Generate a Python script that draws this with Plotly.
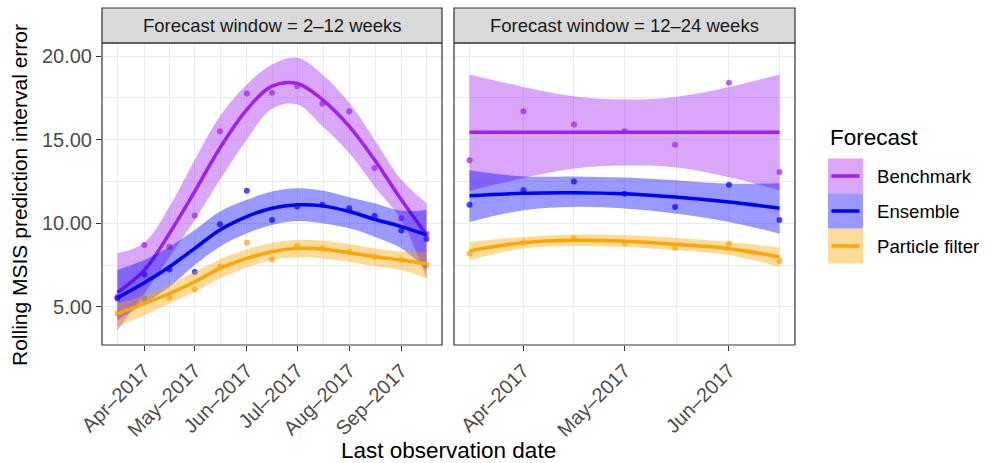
import plotly.graph_objects as go
import pandas as pd

W, H = 987, 463
FONT = "Liberation Sans, Arial, Helvetica, sans-serif"

series = ["Benchmark", "Ensemble", "Particle filter"]
line_colors = ["#A020F0", "#0000FF", "#FFA500"]
band_colors = ["rgba(160,32,240,0.4)", "rgba(0,0,255,0.4)", "rgba(255,165,0,0.4)"]
point_colors = ["rgba(160,32,240,0.7)", "rgba(0,0,255,0.7)", "rgba(255,165,0,0.7)"]

panel_titles = ["Forecast window = 2\u201312 weeks", "Forecast window = 12\u201324 weeks"]

# ---------------- Left panel (2-12 weeks) ----------------
left_dates = ["2017-03-16", "2017-04-01", "2017-04-16", "2017-05-01", "2017-05-16",
              "2017-06-01", "2017-06-16", "2017-07-01", "2017-07-16", "2017-08-01",
              "2017-08-16", "2017-09-01", "2017-09-16"]
left_bench = [5.6, 8.7, 8.6, 10.46, 15.5, 17.76, 17.8, 18.2, 17.14, 16.7, 13.3, 10.3, 9.36]
left_ens = [5.5, 6.94, 7.24, 7.08, 9.94, 11.94, 10.2, 11.0, 11.1, 10.9, 10.44, 9.56, 9.06]
left_pf = [4.6, 5.5, 5.56, 6.04, 7.4, 8.84, 7.84, 8.64, 8.5, 8.3, 8.0, 7.84, 7.5]

left_bench_fit = [5.86, 7.2, 9.4, 11.9, 14.5, 16.8, 18.2, 18.36, 17.4, 15.8, 13.8, 11.4, 9.3]
left_bench_lo = [3.6, 5.8, 8.0, 10.2, 12.6, 15.0, 16.85, 17.1, 15.8, 14.2, 12.2, 10.2, 6.7]
left_bench_hi = [8.2, 8.84, 11.0, 13.8, 16.4, 18.3, 19.5, 19.9, 18.9, 17.2, 15.0, 12.6, 11.2]

left_ens_fit = [5.54, 6.44, 7.4, 8.5, 9.6, 10.4, 10.9, 11.1, 11.04, 10.7, 10.24, 9.8, 9.3]
left_ens_lo = [4.2, 5.2, 6.2, 7.5, 8.6, 9.4, 9.9, 10.14, 10.0, 9.7, 9.2, 8.5, 7.2]
left_ens_hi = [7.2, 7.8, 8.6, 9.6, 10.7, 11.4, 11.9, 12.1, 11.96, 11.56, 11.2, 10.75, 10.8]

left_pf_fit = [4.6, 5.2, 5.8, 6.5, 7.3, 7.9, 8.3, 8.5, 8.46, 8.24, 8.0, 7.8, 7.56]
left_pf_lo = [3.8, 4.5, 5.2, 5.9, 6.7, 7.36, 7.8, 7.96, 7.9, 7.7, 7.44, 7.2, 6.7]
left_pf_hi = [5.2, 5.7, 6.36, 7.1, 7.84, 8.44, 8.84, 9.0, 8.96, 8.76, 8.5, 8.3, 8.3]

left_tickvals = ["2017-04-01", "2017-05-01", "2017-06-01", "2017-07-01", "2017-08-01", "2017-09-01"]
left_ticktext = ["Apr\u20132017", "May\u20132017", "Jun\u20132017", "Jul\u20132017", "Aug\u20132017", "Sep\u20132017"]
left_minor = ["2017-03-16", "2017-04-16", "2017-05-16 12:00", "2017-06-16", "2017-07-16 12:00",
              "2017-08-16 12:00", "2017-09-16"]

# ---------------- Right panel (12-24 weeks) ----------------
right_dates = ["2017-03-16", "2017-04-01", "2017-04-16", "2017-05-01", "2017-05-16",
               "2017-06-01", "2017-06-16"]
right_bench = [13.77, 16.7, 15.9, 15.5, 14.7, 18.4, 13.07]
right_ens = [11.1, 11.97, 12.5, 11.77, 10.98, 12.3, 10.2]
right_pf = [8.19, 8.86, 9.1, 8.84, 8.54, 8.78, 7.75]

right_bench_fit = [15.44, 15.44, 15.44, 15.44, 15.44, 15.44, 15.44]
right_bench_lo = [11.93, 12.7, 13.27, 13.45, 13.35, 12.75, 11.98]
right_bench_hi = [18.9, 18.15, 17.6, 17.4, 17.55, 18.15, 18.9]

right_ens_fit = [11.65, 11.8, 11.83, 11.77, 11.57, 11.27, 10.9]
right_ens_lo = [10.08, 10.78, 10.98, 10.88, 10.58, 10.08, 9.38]
right_ens_hi = [13.17, 12.8, 12.8, 12.73, 12.57, 12.37, 12.4]

right_pf_fit = [8.35, 8.84, 8.98, 8.92, 8.74, 8.48, 7.99]
right_pf_lo = [7.79, 8.49, 8.62, 8.58, 8.39, 8.09, 7.39]
right_pf_hi = [8.88, 9.18, 9.32, 9.28, 9.14, 8.88, 8.55]

right_tickvals = ["2017-04-01", "2017-05-01", "2017-06-01"]
right_ticktext = ["Apr\u20132017", "May\u20132017", "Jun\u20132017"]
right_minor = ["2017-03-16", "2017-04-16", "2017-05-16 12:00", "2017-06-16"]

y_ticks = [5, 10, 15, 20]
y_ticktext = ["5.00", "10.00", "15.00", "20.00"]
y_minor = [7.5, 12.5, 17.5]

panels = [
    dict(dates=left_dates, pts=[left_bench, left_ens, left_pf],
         fit=[left_bench_fit, left_ens_fit, left_pf_fit],
         lo=[left_bench_lo, left_ens_lo, left_pf_lo],
         hi=[left_bench_hi, left_ens_hi, left_pf_hi], xa="x", ya="y"),
    dict(dates=right_dates, pts=[right_bench, right_ens, right_pf],
         fit=[right_bench_fit, right_ens_fit, right_pf_fit],
         lo=[right_bench_lo, right_ens_lo, right_pf_lo],
         hi=[right_bench_hi, right_ens_hi, right_pf_hi], xa="x2", ya="y2"),
]

fig = go.Figure()
for p in panels:
    for i in range(3):
        fig.add_trace(go.Scatter(x=p["dates"], y=p["pts"][i], mode="markers",
                                 marker=dict(size=6, color=point_colors[i]),
                                 xaxis=p["xa"], yaxis=p["ya"], showlegend=False,
                                 hoverinfo="skip"))
    for i in range(3):
        fig.add_trace(go.Scatter(x=p["dates"], y=p["lo"][i], mode="lines",
                                 line=dict(width=0, shape="spline", color=band_colors[i]),
                                 xaxis=p["xa"], yaxis=p["ya"], showlegend=False,
                                 hoverinfo="skip"))
        fig.add_trace(go.Scatter(x=p["dates"], y=p["hi"][i], mode="lines",
                                 line=dict(width=0, shape="spline", color=band_colors[i]),
                                 fill="tonexty", fillcolor=band_colors[i],
                                 xaxis=p["xa"], yaxis=p["ya"], showlegend=False,
                                 hoverinfo="skip"))
        fig.add_trace(go.Scatter(x=p["dates"], y=p["fit"][i], mode="lines",
                                 line=dict(width=3.5, shape="spline", color=line_colors[i]),
                                 xaxis=p["xa"], yaxis=p["ya"], showlegend=False,
                                 name=series[i]))

def px_x(v):
    return v / W

def px_y(v):
    return 1 - v / H

PL = (102, 442)
PR = (454, 795)
PT, PB = 43, 345
ST = 8

def xrange(dates):
    d = pd.to_datetime(dates)
    pad = (d.max() - d.min()) * 0.05
    return [(d.min() - pad).strftime("%Y-%m-%d %H:%M"), (d.max() + pad).strftime("%Y-%m-%d %H:%M")]

grid = "#EBEBEB"
axcommon = dict(showline=False, zeroline=False, ticks="outside", ticklen=5,
                tickcolor="#333333", tickwidth=1.1, showgrid=True, gridcolor=grid, gridwidth=1.1,
                automargin=False,
                tickfont=dict(family=FONT, size=20, color="#4D4D4D"))

fig.update_layout(
    width=W, height=H, margin=dict(l=0, r=0, t=0, b=0, autoexpand=False),
    paper_bgcolor="white", plot_bgcolor="white", showlegend=False,
    xaxis=dict(domain=[px_x(PL[0]), px_x(PL[1])], type="date", range=xrange(left_dates),
               tickmode="array", tickvals=left_tickvals, ticktext=left_ticktext, tickangle=-45,
               minor=dict(tickmode="array", tickvals=left_minor, showgrid=True, gridcolor=grid,
                          gridwidth=0.6, ticks=""),
               anchor="y", **axcommon),
    xaxis2=dict(domain=[px_x(PR[0]), px_x(PR[1])], type="date", range=xrange(right_dates),
                tickmode="array", tickvals=right_tickvals, ticktext=right_ticktext, tickangle=-45,
                minor=dict(tickmode="array", tickvals=right_minor, showgrid=True, gridcolor=grid,
                           gridwidth=0.6, ticks=""),
                anchor="y2", **axcommon),
    yaxis=dict(domain=[px_y(PB), px_y(PT)], range=[2.72, 20.78], tickmode="array",
               tickvals=y_ticks, ticktext=y_ticktext,
               minor=dict(tickmode="array", tickvals=y_minor, showgrid=True, gridcolor=grid,
                          gridwidth=0.6, ticks=""),
               anchor="x", **axcommon),
    yaxis2=dict(domain=[px_y(PB), px_y(PT)], range=[2.72, 20.78], tickmode="array",
                tickvals=y_ticks, showticklabels=False,
                minor=dict(tickmode="array", tickvals=y_minor, showgrid=True, gridcolor=grid,
                           gridwidth=0.6, ticks=""),
                anchor="x2", showline=False, zeroline=False, ticks="", showgrid=True,
                gridcolor=grid, gridwidth=1.1, automargin=False),
)

shapes = []
annotations = []
for (x0, x1), title in zip([PL, PR], panel_titles):
    shapes.append(dict(type="rect", xref="paper", yref="paper", x0=px_x(x0), x1=px_x(x1),
                       y0=px_y(PT), y1=px_y(ST), fillcolor="#D9D9D9",
                       line=dict(color="#333333", width=1.2), layer="above"))
    shapes.append(dict(type="rect", xref="paper", yref="paper", x0=px_x(x0), x1=px_x(x1),
                       y0=px_y(PB), y1=px_y(PT), fillcolor="rgba(0,0,0,0)",
                       line=dict(color="#333333", width=1.2), layer="above"))
    annotations.append(dict(xref="paper", yref="paper", x=px_x((x0 + x1) / 2), y=px_y((PT + ST) / 2),
                            text=title, showarrow=False, xanchor="center", yanchor="middle",
                            font=dict(family=FONT, size=18.5, color="#1A1A1A")))

annotations.append(dict(xref="paper", yref="paper", x=px_x((PL[0] + PR[1]) / 2), y=px_y(450),
                        text="Last observation date", showarrow=False, xanchor="center",
                        yanchor="middle", font=dict(family=FONT, size=22.5, color="black")))
annotations.append(dict(xref="paper", yref="paper", x=px_x(20), y=px_y((PT + PB) / 2 + 1),
                        text="Rolling MSIS prediction interval error", showarrow=False,
                        textangle=-90, xanchor="center", yanchor="middle",
                        font=dict(family=FONT, size=21, color="black")))

annotations.append(dict(xref="paper", yref="paper", x=px_x(828), y=px_y(137),
                        text="Forecast", showarrow=False, xanchor="left", yanchor="middle",
                        font=dict(family=FONT, size=22.5, color="black")))
key_top = 158.5
key_h = 35
for i, name in enumerate(series):
    y0 = key_top + i * key_h
    shapes.append(dict(type="rect", xref="paper", yref="paper", x0=px_x(828), x1=px_x(863),
                       y0=px_y(y0 + key_h), y1=px_y(y0), fillcolor=band_colors[i],
                       line=dict(width=0), layer="above"))
    shapes.append(dict(type="line", xref="paper", yref="paper", x0=px_x(831.5), x1=px_x(859.5),
                       y0=px_y(y0 + key_h / 2), y1=px_y(y0 + key_h / 2),
                       line=dict(color=line_colors[i], width=3.5), layer="above"))
    annotations.append(dict(xref="paper", yref="paper", x=px_x(875), y=px_y(y0 + key_h / 2),
                            text=name, showarrow=False, xanchor="left", yanchor="middle",
                            font=dict(family=FONT, size=18.6, color="black")))

fig.update_layout(shapes=shapes, annotations=annotations)
fig.write_html("out.html")
